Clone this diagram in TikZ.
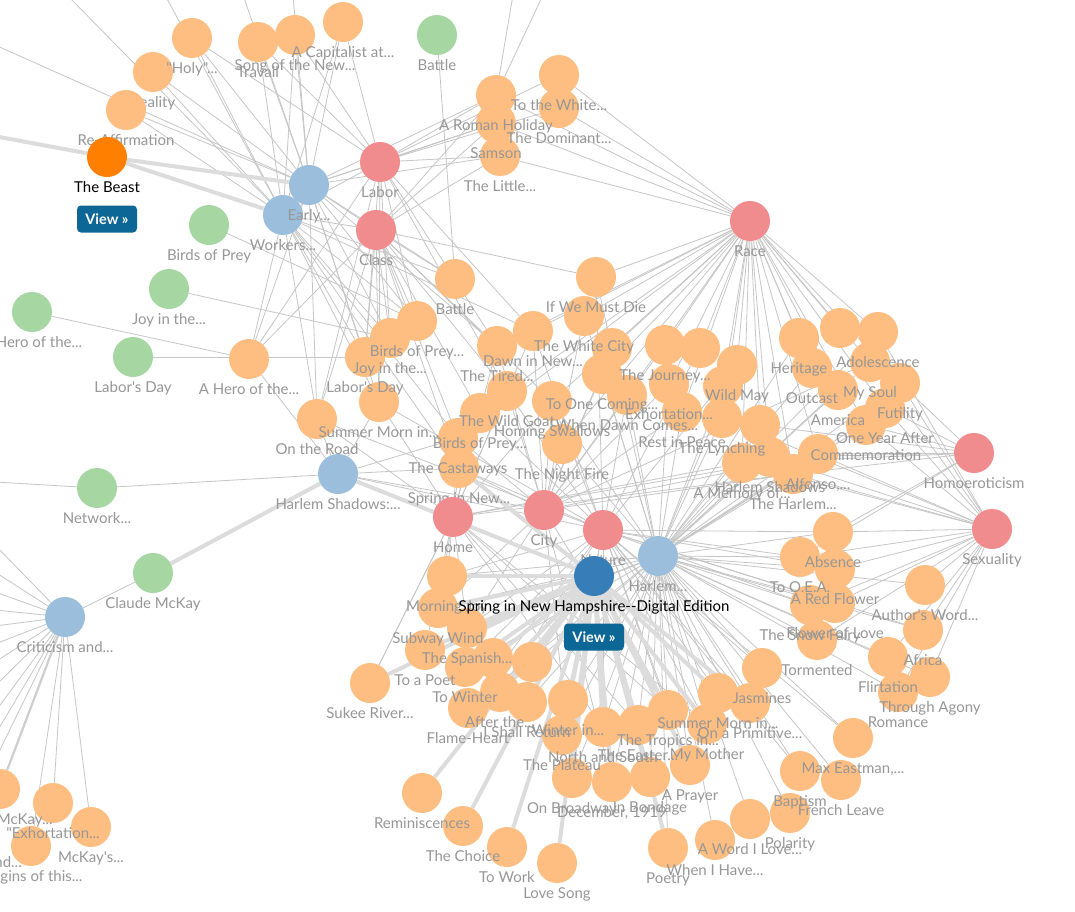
\documentclass[tikz,border=0pt]{standalone}
\usepackage{fontspec}
\setmainfont{Lato}[Ligatures=TeXOff]
\definecolor{poemc}{HTML}{FEBE81}
\definecolor{greenc}{HTML}{A6D7A3}
\definecolor{bluec}{HTML}{9CBEDD}
\definecolor{redc}{HTML}{F08B8E}
\definecolor{beastc}{HTML}{FF7F00}
\definecolor{springc}{HTML}{377EB8}
\definecolor{btnc}{HTML}{0D6796}
\definecolor{labc}{HTML}{979797}
\definecolor{edgec}{HTML}{C6C6C6}
\definecolor{thickc}{HTML}{DCDCDC}
\pgfdeclarelayer{bg}
\pgfsetlayers{bg,main}
\tikzset{
  dot/.style={circle, minimum size=40pt, inner sep=0pt, draw=none},
  poem/.style={dot, fill=poemc},
  topic/.style={dot, fill=greenc},
  book/.style={dot, fill=bluec},
  theme/.style={dot, fill=redc},
  lab/.style={text=labc, font=\fontsize{15}{17}\selectfont, anchor=base, inner sep=0pt},
  btn/.style={fill=btnc, rounded corners=4pt, text=white, font=\bfseries\fontsize{14.5}{16}\selectfont, minimum width=60pt, minimum height=27pt, inner sep=0pt},
  edge/.style={draw=edgec, line width=0.8pt},
  thickedge/.style={draw=thickc, line width=4pt},
  midedge/.style={draw=thickc!85!gray, line width=2.2pt}
}
\begin{document}
\begin{tikzpicture}[x=1pt,y=-1pt]
\useasboundingbox (0,0) rectangle (1075,911);

% ---------- poems (drawn bottom first) ----------
\foreach \n/\x/\y/\lbl in {
lovesong/557/863/{Love Song}, poetry/668/848/{Poetry}, towork/507/847/{To Work},
origins/31/846/{Origins of this...}, whenhave/715/840/{When I Have...},
mckays/91/827/{McKay's...}, choice/463/826/{The Choice}, aword/750/819/{A Word I Love...},
polarity/790/813/{Polarity}, exhortq/53/803/{"Exhortation...}, remin/422/793/{Reminiscences},
mckayone/0/789/{Claude McKay...}, december/612/782/{December, 1919}, french/841/780/{French Leave},
broadway/572/778/{On Broadway}, bondage/650/777/{In Bondage}, baptism/800/771/{Baptism},
prayer/690/765/{A Prayer}, maxeast/853/738/{Max Eastman,...}, plateau/562/735/{The Plateau},
northsouth/603/727/{North and South}, easter/638/725/{The Easter...}, mother/707/724/{My Mother},
tropics/668/710/{The Tropics in...}, flame/468/708/{Flame-Heart}, primitive/750/703/{On a Primitive...},
shall/527/702/{I Shall Return}, winterin/568/700/{Winter in...}, morntwo/718/693/{Summer Morn in...},
afterw/500/692/{After the...}, romance/898/692/{Romance}, sukee/370/683/{Sukee River...},
agony/930/677/{Through Agony}, jasmines/762/668/{Jasmines}, towinter/465/667/{To Winter},
pa/532/662/{}, pb/493/658/{}, flirt/888/657/{Flirtation}, topoet/425/650/{To a Poet},
tormented/817/640/{Tormented}, africa/923/630/{Africa}, spanish/467/628/{The Spanish...},
subway/438/608/{Subway Wind}, snowfairy/810/605/{The Snow Fairy}, flowerlove/835/603/{Flower of Love},
authors/925/585/{Author's Word...}, morning/447/576/{Morning Joy}, redflower/835/569/{A Red Flower},
tooea/800/557/{To O.E.A.}, absence/833/532/{Absence}, harlemd/793/474/{The Harlem...},
springnew/459/468/{Spring in New...}, memory/742/463/{A Memory of...}, harlemsh/770/457/{Harlem Shadows},
alfonso/818/454/{Alfonso,...}, nightfire/562/444/{The Night Fire}, castaways/458/438/{The Castaways},
commem/866/425/{Commemoration}, pc/760/425/{}, road/317/419/{On the Road}, lynching/722/418/{The Lynching},
birdstwo/480/413/{Birds of Prey...}, rest/682/412/{Rest in Peace}, oneyear/885/408/{One Year After},
summer/379/402/{Summer Morn in...}, homing/552/401/{Homing Swallows}, whendawn/627/395/{When Dawn Comes...},
goat/507/391/{The Wild Goat}, america/838/390/{America}, pd/723/386/{}, exhort/669/384/{Exhortation...},
futility/900/383/{Futility}, onecoming/602/374/{To One Coming...}, outcast/812/368/{Outcast},
wildmay/737/365/{Wild May}, mysoul/870/362/{My Soul}, hero/249/359/{A Hero of the...},
laborsday/365/357/{Labor's Day}, pe/612/348/{}, pf/700/348/{}, tired/497/346/{The Tired...},
journey/665/345/{The Journey...}, heritage/799/338/{Heritage}, joy/390/338/{Joy in the...},
adoles/878/332/{Adolescence}, dawn/533/331/{Dawn in New...}, pg/840/328/{},
birds/417/321/{Birds of Prey...}, whitecity/584/316/{The White City}, battle/455/279/{Battle},
mustdie/596/277/{If We Must Die}, little/500/156/{The Little...}, samson/496/123/{Samson},
dominant/559/108/{The Dominant...}, roman/496/95/{A Roman Holiday},
towhite/559/75/{To the White...}, reality/153/72/{Reality}, reaff/126/110/{Re-Affirmation},
holy/192/38/{"Holy"...}, travail/258/42/{Travail},
songnew/295/35/{Song of the New...}, capital/343/22/{A Capitalist at...}}{
  \node[poem] (\n) at (\x,\y) {};
  \node[lab] (\n-l) at (\x,\y+35) {\lbl};
}
\node[lab, anchor=base east] (ndfrag) at (22,867) {nd...};

% ---------- topics (green) ----------
\foreach \n/\x/\y/\lbl in {battleg/437/35/{Battle}, birdsg/209/225/{Birds of Prey}, joyg/169/289/{Joy in the...},
herog/32/312/{A Hero of the...}, laborsg/133/357/{Labor's Day}, network/97/488/{Network...},
claude/153/573/{Claude McKay}}{
  \node[topic] (\n) at (\x,\y) {};
  \node[lab] (\n-l) at (\x,\y+35) {\lbl};
}
% ---------- books (blue) ----------
\foreach \n/\x/\y/\lbl in {workers/283/215/{Workers...}, early/309/185/{Early...}, harlsh/338/474/{Harlem Shadows:...},
critic/65/617/{Criticism and...}, harlem/658/556/{Harlem...}}{
  \node[book] (\n) at (\x,\y) {};
  \node[lab] (\n-l) at (\x,\y+35) {\lbl};
}
% ---------- themes (red) ----------
\foreach \n/\x/\y/\lbl in {labor/380/162/{Labor}, class/376/230/{Class}, race/750/221/{Race}, home/453/517/{Home},
city/544/510/{City}, nature/603/530/{Nature}, homoe/974/453/{Homoeroticism}, sexual/992/529/{Sexuality}}{
  \node[theme] (\n) at (\x,\y) {};
  \node[lab] (\n-l) at (\x,\y+35) {\lbl};
}
% ---------- selected items ----------
\node[dot, fill=beastc] (beast) at (107,157) {};
\node[lab, text=black] (beast-l) at (107,192) {The Beast};
\node[btn] (beastview) at (107,219) {View »};
\node[dot, fill=springc] (spring) at (594,576) {};
\node[lab, text=black] (spring-l) at (594,611) {Spring in New Hampshire-\kern0pt-Digital Edition};
\node[btn] (springview) at (594,637) {View »};

% ---------- free ends off the picture ----------
\coordinate (offB) at (-60,126);
\coordinate (offTLa) at (-5,45);
\coordinate (offTa) at (67,-5);
\coordinate (offTb) at (165,-5);
\coordinate (offTc) at (243,-5);
\coordinate (offTd) at (293,-5);
\coordinate (offTe) at (513,-5);
\coordinate (offTf) at (543,-5);
\coordinate (offN) at (-5,482);

% ---------- connectors ----------
\begin{pgfonlayer}{bg}
\fill[white] (0,0) rectangle (1075,911);
\foreach \b in {offTLa,offTc,offTd,holy,reality,reaff,travail,songnew,capital,labor,class,hero,birds,joy,laborsday,summer,road,battle,little,roman,samson,tired}
  \draw[edge] (early) -- (\b);
\foreach \b in {offTa,offTb,holy,reality,reaff,travail,songnew,capital,labor,class,hero,road,birds,joy,laborsday,summer,battle,springnew,castaways,dawn}
  \draw[edge] (workers) -- (\b);
\foreach \b in {travail,songnew,capital,holy,roman,samson,little,towhite,dominant,birds,joy,laborsday,hero,road,tired,dawn,summer,goat}
  \draw[edge] (labor) -- (\b);
\foreach \b in {roman,samson,little,mustdie,battle,birds,joy,laborsday,hero,summer,road,tired,goat,castaways,springnew,birdstwo,homing}
  \draw[edge] (class) -- (\b);
\foreach \b in {roman,samson,little,towhite,dominant,mustdie,whitecity,onecoming,whendawn,journey,pf,exhort,rest,wildmay,pd,lynching,pc,memory,harlemsh,harlemd,alfonso,heritage,pg,adoles,outcast,america,mysoul,futility,oneyear,commem,dawn,tired,homing,nightfire,pe,goat,castaways}
  \draw[edge] (race) -- (\b);
\foreach \b in {heritage,outcast,america,adoles,mysoul,futility,oneyear,commem,lynching,rest,wildmay,exhort,alfonso,harlemd,memory,harlemsh,absence,tooea,redflower,snowfairy,flowerlove,tormented,authors,africa,flirt,agony,romance,jasmines,primitive,morntwo,mother,tropics,maxeast,baptism,french,polarity,aword,whenhave,poetry,prayer,bondage,december,broadway,easter,northsouth,winterin,plateau,shall,afterw,flame,towinter,topoet,spanish,subway,morning,homing,nightfire,whendawn,onecoming,mustdie,whitecity,pc,pd}
  \draw[edge] (harlem) -- (\b);
\foreach \b in {springnew,castaways,birdstwo,goat,morning,subway,spanish,topoet,sukee,tropics,northsouth,mother,easter,alfonso,harlemd,memory,dawn,tired,homing,road,summer}
  \draw[edge] (home) -- (\b);
\foreach \b in {tired,dawn,whitecity,goat,homing,nightfire,onecoming,whendawn,castaways,springnew,subway,spanish,broadway,december,tropics,harlemd,alfonso,mysoul,exhort,rest,journey,pe}
  \draw[edge] (city) -- (\b);
\foreach \b in {summer,road,springnew,dawn,goat,birdstwo,homing,whendawn,morning,spanish,towinter,afterw,winterin,flame,plateau,northsouth,tropics,mother,prayer,jasmines,primitive,morntwo,redflower,flowerlove,snowfairy,absence,tooea,africa,maxeast,baptism,mustdie,pf,wildmay}
  \draw[edge] (nature) -- (\b);
\foreach \b in {commem,oneyear,alfonso,futility,harlemsh,absence,tooea,pc,memory,harlemd}
  \draw[edge] (homoe) -- (\b);
\foreach \b in {absence,tooea,redflower,authors,africa,flirt,agony,romance,flowerlove,snowfairy,tormented,oneyear,commem,futility,mysoul,adoles,alfonso,harlemd,memory,harlemsh,lynching}
  \draw[edge] (sexual) -- (\b);
\foreach \b in {network,hero,road,summer,springnew,castaways,city,nature}
  \draw[edge] (harlsh) -- (\b);
\foreach \b in {claude,exhortq,origins,mckays}
  \draw[edge] (critic) -- (\b);
\foreach \yy in {545,572,592,610,626,644,662,686,712,735,760}
  \draw[edge] (critic) -- (-5,\yy);
\draw[edge] (network) -- (offN);
\draw[edge] (battleg) -- (battle);
\draw[edge] (birdsg) -- (birds);
\draw[edge] (joyg) -- (joy);
\draw[edge] (herog) -- (hero);
\draw[edge] (laborsg) -- (laborsday);
\draw[edge] (roman) -- (offTe);
\draw[edge] (roman) -- (offTf);
\draw[edge] (sukee) -- (home);
\draw[midedge] (critic) -- (mckayone);
\draw[thickedge] (beast) -- (early);
\draw[thickedge] (beast) -- (workers);
\draw[thickedge] (beast) -- (offB);
\draw[thickedge] (claude) -- (harlsh);
\draw[thickedge] (harlsh) -- (spring);
\foreach \b in {sukee,remin,choice,towork,lovesong,broadway,december,bondage,prayer,poetry,morning,subway,spanish,topoet,towinter,flame,afterw,shall,winterin,plateau,northsouth,easter,tropics,mother,pa,pb,springnew,primitive,morntwo}
  \draw[thickedge] (spring) -- (\b);
\end{pgfonlayer}
\end{tikzpicture}
\end{document}
